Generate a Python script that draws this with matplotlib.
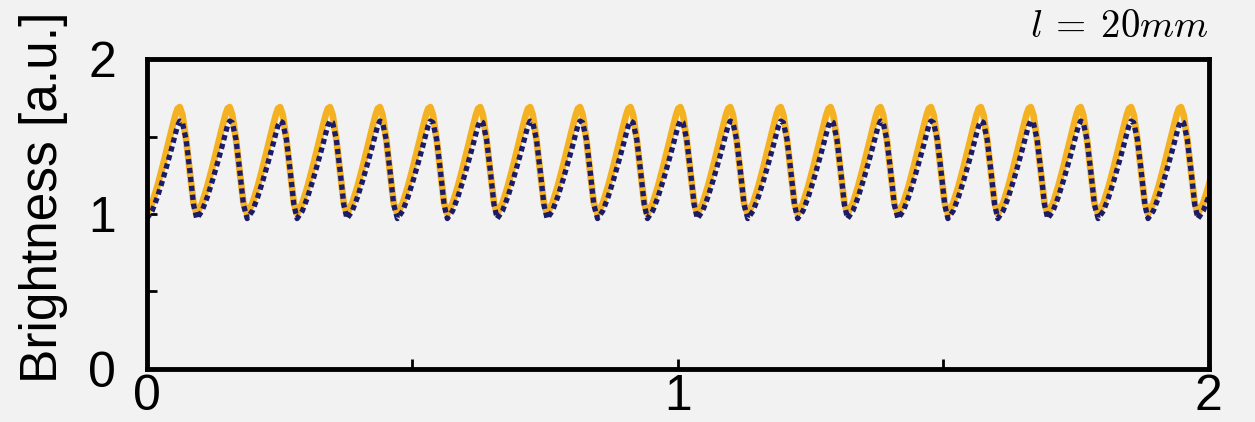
import numpy as np
import matplotlib
matplotlib.use("Agg")
import matplotlib.pyplot as plt

# positions (in x units) of each trough
trough_x = [0.000, 0.094, 0.189, 0.283, 0.377, 0.472, 0.566, 0.660, 0.754, 0.849,
            0.943, 1.037, 1.132, 1.226, 1.320, 1.415, 1.509, 1.603, 1.697, 1.792,
            1.886, 1.980]

# one period of each curve, measured from a trough
period_dx = [0.000, 0.010, 0.020, 0.030, 0.040, 0.048, 0.054, 0.058, 0.062, 0.067,
             0.074, 0.081, 0.088]
orange_period = [1.00, 1.07, 1.18, 1.31, 1.45, 1.56, 1.64, 1.68, 1.69, 1.64,
                 1.48, 1.27, 1.07]
navy_period = [0.97, 1.02, 1.11, 1.22, 1.34, 1.44, 1.52, 1.57, 1.60, 1.59,
               1.48, 1.28, 1.06]

x_ticks = [0, 1, 2]
y_ticks = [0, 1, 2]
title_text = r"$l\:=\:20mm$"
ylabel_text = "Brightness [a.u.]"

# putting the periods one after another
x_vals = []
orange_vals = []
navy_vals = []
for t in trough_x:
    for i in range(len(period_dx)):
        x_vals.append(t + period_dx[i])
        orange_vals.append(orange_period[i])
        navy_vals.append(navy_period[i])

plt.rcParams["font.family"] = ["Liberation Sans", "DejaVu Sans"]
plt.rcParams["mathtext.fontset"] = "cm"

bg = "#f2f2f2"
fig = plt.figure(figsize=(12.55, 4.22), dpi=100, facecolor=bg)
ax = fig.add_axes([0.117, 0.126, 0.846, 0.734])
ax.set_facecolor(bg)

ax.plot(x_vals, orange_vals, color="#f4b223", linewidth=4.8, solid_capstyle="round")
ax.plot(x_vals, navy_vals, color="#1b1b68", linewidth=3.8, dashes=(1.0, 0.7))

ax.set_xlim(0, 2)
ax.set_ylim(0, 2)
ax.set_xticks(x_ticks)
ax.set_yticks(y_ticks)
ax.set_xticks([0.5, 1.5], minor=True)
ax.set_yticks([0.5, 1.5], minor=True)
ax.tick_params(which="both", direction="in", width=2, length=7, labelsize=36)
ax.tick_params(axis="x", which="major", pad=4)
ax.tick_params(axis="y", which="major", pad=22)
for s in ax.spines.values():
    s.set_linewidth(3.5)
    s.set_color("black")

ax.set_ylabel(ylabel_text, fontsize=37)
ax.yaxis.set_label_coords(-0.074, 0.553)
ax.set_title(title_text, loc="right", fontsize=28, pad=16)

fig.savefig("out.png", dpi=100, facecolor=bg)
